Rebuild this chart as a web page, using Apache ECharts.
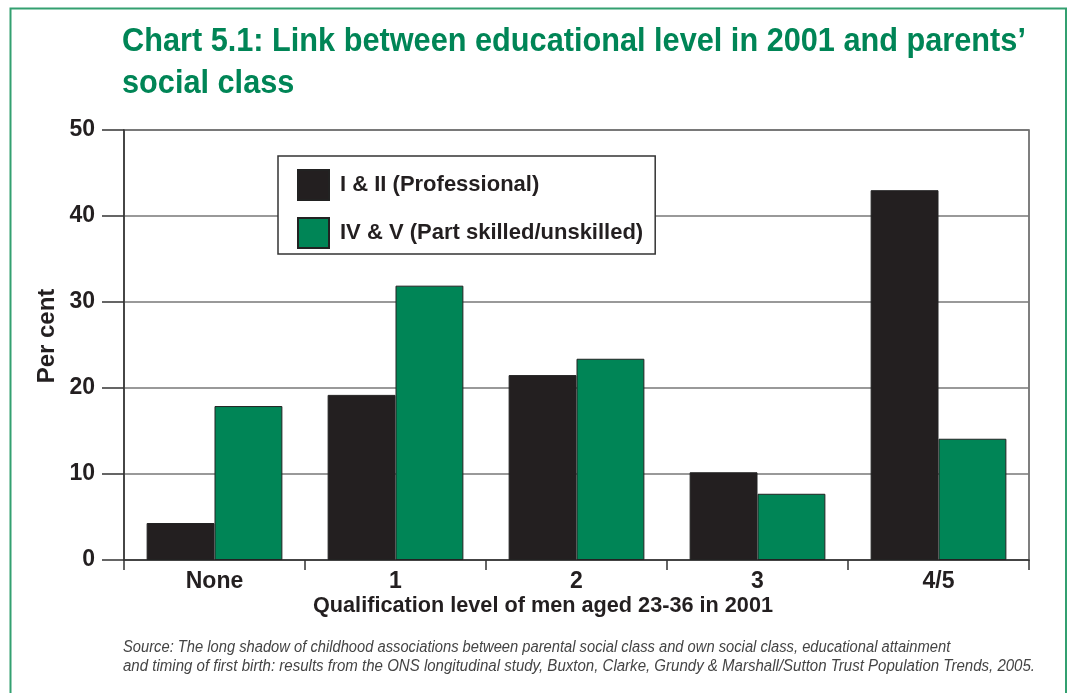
<!DOCTYPE html>
<html>
<head>
<meta charset="utf-8">
<script src="https://cdn.jsdelivr.net/npm/echarts@6/dist/echarts.min.js"></script>
<style>
html,body{margin:0;padding:0;background:#fff;}
#chart{width:1068px;height:693px;}
</style>
</head>
<body>
<div id="chart"></div>
<script>
const categories = ['None', '1', '2', '3', '4/5'];
const professional = [4.3, 19.2, 21.5, 10.2, 43.0];
const partSkilled = [17.9, 31.9, 23.4, 7.7, 14.1];
const seriesNames = ['I & II (Professional)', 'IV & V (Part skilled/unskilled)'];
const titleLines = ['Chart 5.1: Link between educational level in 2001 and parents\u2019', 'social class'];
const sourceLines = [
  'Source: The long shadow of childhood associations between parental social class and own social class, educational attainment',
  'and timing of first birth: results from the ONS longitudinal study, Buxton, Clarke, Grundy & Marshall/Sutton Trust Population Trends, 2005.'
];
const xAxisName = 'Qualification level of men aged 23-36 in 2001';
const yAxisName = 'Per cent';

const FONT = '"Liberation Sans", Arial, sans-serif';
const GREEN = '#008556';
const BLACK = '#231f20';

const chart = echarts.init(document.getElementById('chart'), null, {renderer: 'canvas'});
chart.setOption({
  backgroundColor: '#fff',
  animation: false,
  graphic: [
    {type: 'rect', shape: {x: 10.5, y: 8.5, width: 1055.5, height: 700}, style: {fill: 'none', stroke: '#33a070', lineWidth: 2}, silent: true},
    {type: 'text', x: 122, y: 42, scaleX: 0.93, style: {x: 0, y: 0, text: titleLines[0], font: 'bold 33px ' + FONT, fill: GREEN, verticalAlign: 'middle'}},
    {type: 'text', x: 122, y: 84, scaleX: 0.93, style: {x: 0, y: 0, text: titleLines[1], font: 'bold 33px ' + FONT, fill: GREEN, verticalAlign: 'middle'}},
    {type: 'text', x: 123, y: 648, scaleX: 0.92, style: {x: 0, y: 0, text: sourceLines[0], font: 'italic 16px ' + FONT, fill: '#444', verticalAlign: 'middle'}},
    {type: 'text', x: 123, y: 667, scaleX: 0.94, style: {x: 0, y: 0, text: sourceLines[1], font: 'italic 16px ' + FONT, fill: '#444', verticalAlign: 'middle'}},
    {type: 'text', x: 47, y: 336, rotation: Math.PI / 2, style: {x: 0, y: 0, text: yAxisName, font: 'bold 24px ' + FONT, fill: '#231f20', align: 'center', verticalAlign: 'middle'}},
    {type: 'text', x: 543, y: 606, scaleX: 0.985, style: {x: 0, y: 0, text: xAxisName, font: 'bold 22px ' + FONT, fill: '#231f20', align: 'center', verticalAlign: 'middle'}}
  ],
  grid: {left: 124, right: 39, top: 130, bottom: 133, show: true, borderColor: '#555', borderWidth: 1.5, backgroundColor: 'transparent'},
  legend: {
    orient: 'vertical', left: 278, top: 156,
    data: seriesNames,
    backgroundColor: '#fff', borderColor: '#333', borderWidth: 1.5,
    padding: [13, 12, 5, 19],
    itemWidth: 31, itemHeight: 30, itemGap: 16,
    icon: 'rect',
    textStyle: {fontFamily: FONT, fontWeight: 'bold', fontSize: 22, color: '#231f20', padding: [0, 0, 0, 6]}
  },
  xAxis: {
    type: 'category', data: categories,
    axisLine: {lineStyle: {color: '#333', width: 1.5}},
    axisTick: {show: true, length: 10, lineStyle: {color: '#333', width: 1.5}},
    axisLabel: {fontFamily: FONT, fontWeight: 'bold', fontSize: 23, color: '#231f20', margin: 10}
  },
  yAxis: {
    type: 'value', min: 0, max: 50, interval: 10,
    axisLine: {show: true, lineStyle: {color: '#333', width: 1.5}},
    axisTick: {show: true, length: 22, lineStyle: {color: '#333', width: 1.5}},
    axisLabel: {fontFamily: FONT, fontWeight: 'bold', fontSize: 23, color: '#231f20', margin: 29},
    splitLine: {lineStyle: {color: '#777', width: 1.5}}
  },
  series: [
    {name: seriesNames[0], type: 'bar', data: professional, barGap: '0%', barCategoryGap: '25%',
     itemStyle: {color: BLACK, borderColor: '#222', borderWidth: 1}},
    {name: seriesNames[1], type: 'bar', data: partSkilled, barGap: '0%', barCategoryGap: '25%',
     itemStyle: {color: GREEN, borderColor: '#222', borderWidth: 1}}
  ]
});
</script>
</body>
</html>
